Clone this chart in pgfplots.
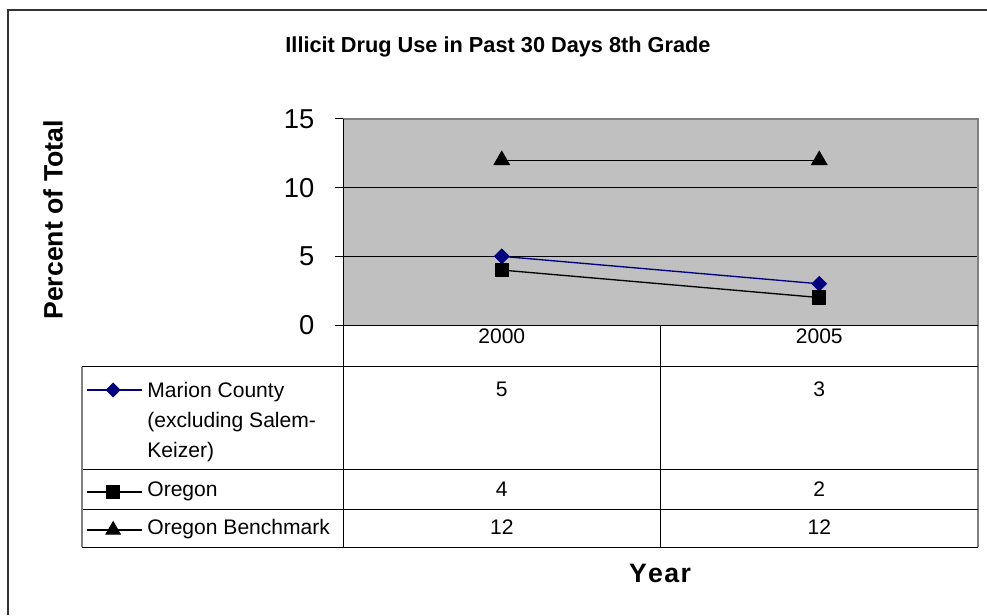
\documentclass[border=0pt]{standalone}
\usepackage{pgfplots}
\pgfplotsset{compat=1.18}
\usepackage{fontspec}
\setmainfont{Liberation Sans}
\definecolor{plotgray}{HTML}{C0C0C0}
\definecolor{bordergray}{HTML}{808080}
\definecolor{navyblue}{HTML}{000080}
\definecolor{framegray}{HTML}{333333}
\begin{document}
\begin{tikzpicture}
\begin{scope}[x=0.75pt,y=0.75pt]
\useasboundingbox (0,0) rectangle (987,615);
\draw[framegray, line width=1.5pt] (8,0) -- (8,605) -- (987,605);
\node[font=\bfseries\fontsize{16.3}{19}\selectfont] at (498,568) {Illicit Drug Use in Past 30 Days 8th Grade};
\node[font=\bfseries\fontsize{20}{24}\selectfont, rotate=90] at (53,395) {Percent of Total};
\node[font=\bfseries\fontsize{20}{24}\selectfont] at (660,42) {Y\kern1pt e\kern1pt a\kern1pt r};
\end{scope}
\begin{axis}[
  at={(257.25pt,217.5pt)}, anchor=south west,
  scale only axis, width=476.25pt, height=154.5pt,
  xmin=0, xmax=2, ymin=0, ymax=15,
  xtick=\empty, ytick={0,5,10,15}, ytick pos=left,
  ymajorgrids, grid style={black, line width=0.75pt},
  axis line style={draw=none},
  axis background/.style={fill=plotgray},
  tick align=outside, major tick length=6pt,
  major tick style={black, line width=0.75pt},
  /pgf/number format/assume math mode=true,
  yticklabel style={font=\fontsize{20.5}{23}\selectfont, anchor=east, xshift=-12pt},
  clip=false,
]
% data series
\addplot[navyblue, line width=1pt, mark=square*, mark size=3.7pt,
  mark options={rotate=45, fill=navyblue, draw=navyblue}]
  coordinates {(0.5,5) (1.5,3)};
\addplot[black, line width=1pt, mark=square*, mark size=4.8pt,
  mark options={fill=black}]
  coordinates {(0.5,4) (1.5,2)};
\addplot[black, line width=1pt, mark=triangle*, mark size=6.4pt,
  mark options={fill=black}]
  coordinates {(0.5,12) (1.5,12)};
% legend keys in the data table
\addplot[navyblue, line width=1pt, mark=square*, mark size=3.5pt, mark indices={2},
  mark options={rotate=45, fill=navyblue, draw=navyblue}]
  coordinates {(-0.806,-4.733) (-0.724,-4.733) (-0.633,-4.733)};
\addplot[black, line width=1pt, mark=square*, mark size=4.6pt, mark indices={2},
  mark options={fill=black}]
  coordinates {(-0.806,-12.16) (-0.724,-12.16) (-0.633,-12.16)};
\addplot[black, line width=1pt, mark=triangle*, mark size=6pt, mark indices={2},
  mark options={fill=black}]
  coordinates {(-0.806,-14.93) (-0.724,-14.93) (-0.633,-14.93)};
% plot area border
\draw[bordergray, line width=1.5pt] (axis cs:0,15) -- (axis cs:2,15) -- (axis cs:2,-16.165);
\draw[black, line width=0.75pt] (axis cs:0,15) -- (axis cs:0,-16.165);
\draw[black, line width=0.75pt] (axis cs:0,0) -- (axis cs:2,0);
% data table lines
\draw[black, line width=0.75pt] (axis cs:-0.822,-3.058) -- (axis cs:2,-3.058);
\draw[black, line width=0.75pt] (axis cs:-0.822,-10.486) -- (axis cs:2,-10.486);
\draw[black, line width=0.75pt] (axis cs:-0.822,-13.398) -- (axis cs:2,-13.398);
\draw[black, line width=0.75pt] (axis cs:-0.822,-16.165) -- (axis cs:2,-16.165);
\draw[black, line width=0.75pt] (axis cs:1,0) -- (axis cs:1,-16.165);
\draw[bordergray, line width=1pt] (axis cs:-0.822,-3.058) -- (axis cs:-0.822,-16.165);
% table texts
\begin{scope}[every node/.style={font=\fontsize{15.8}{23}\selectfont, inner sep=0pt}]
\node[anchor=base] at (axis cs:0.5,-1.311) {2000};
\node[anchor=base] at (axis cs:1.5,-1.311) {2005};
\node[anchor=base] at (axis cs:0.5,-5.17) {5};
\node[anchor=base] at (axis cs:1.5,-5.17) {3};
\node[anchor=base] at (axis cs:0.5,-12.52) {4};
\node[anchor=base] at (axis cs:1.5,-12.52) {2};
\node[anchor=base] at (axis cs:0.5,-15.29) {12};
\node[anchor=base] at (axis cs:1.5,-15.29) {12};
\node[anchor=base west] at (axis cs:-0.617,-5.243) {Marion County};
\node[anchor=base west] at (axis cs:-0.617,-7.427) {(excluding Salem-};
\node[anchor=base west] at (axis cs:-0.617,-9.612) {Keizer)};
\node[anchor=base west] at (axis cs:-0.617,-12.52) {Oregon};
\node[anchor=base west] at (axis cs:-0.617,-15.29) {Oregon Benchmark};
\end{scope}
\end{axis}
\end{tikzpicture}
\end{document}
